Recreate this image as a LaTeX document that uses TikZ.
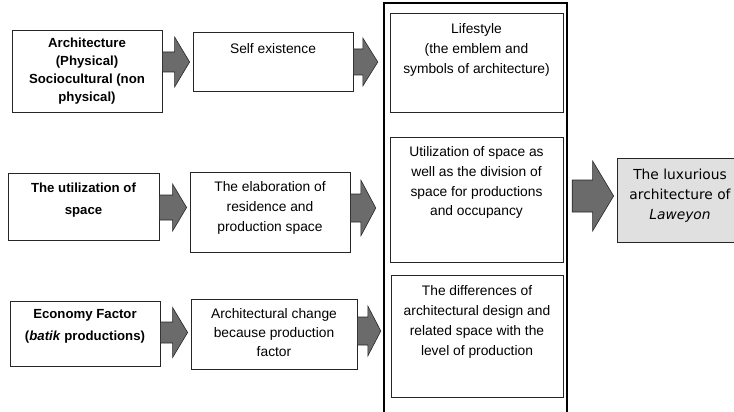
\documentclass[tikz,border=0pt]{standalone}
\usepackage{fontspec}
\setmainfont{Liberation Sans}
\newfontfamily\dejavu{DejaVu Sans}
\usetikzlibrary{calc}

\tikzset{
  box/.style={draw=black!85, line width=0.8pt, rectangle, inner sep=0pt},
  frame/.style={draw=black, line width=2.4pt, rectangle, inner sep=0pt},
  resultbox/.style={box, fill=black!12},
  arrowfill/.style={fill=black!58, draw=black!85, line width=0.6pt, line join=miter},
  txt/.style={align=center, anchor=north, inner sep=0pt},
  boldtxt/.style={txt, font=\bfseries\fontsize{13.2}{18}\selectfont},
  plaintxt/.style={txt, font=\fontsize{13.8}{20}\selectfont},
  resulttxt/.style={txt, font=\dejavu\fontsize{13.8}{20}\selectfont}
}

% block arrow: from, to, centre y, body half, head half, head length, start gap, end gap
\newcommand{\blockarrow}[8]{%
  \filldraw[arrowfill] let \p1=(#1.east), \p2=(#2.west), \p3=(0,#3) in
    ({\x1+#7pt},{\y3+#4pt}) -- ({\x2-#8pt-#6pt},{\y3+#4pt}) --
    ({\x2-#8pt-#6pt},{\y3+#5pt}) -- ({\x2-#8pt},\y3) --
    ({\x2-#8pt-#6pt},{\y3-#5pt}) -- ({\x2-#8pt-#6pt},{\y3-#4pt}) --
    ({\x1+#7pt},{\y3-#4pt}) -- cycle;
}

\begin{document}
\begin{tikzpicture}[x=1pt, y=-1pt]
\useasboundingbox (0,0) rectangle (734,412);

% left column: factors
\node[box, minimum width=150pt, minimum height=82pt] (A1) at (87,71) {};
\node[boldtxt] (A1t) at ($(A1.north)+(0,8)$) {Architecture\\(Physical)\\Sociocultural (non\\physical)};

\node[box, minimum width=151pt, minimum height=67pt] (A2) at (83.5,206.5) {};
\node[boldtxt, font=\bfseries\fontsize{13.2}{22}\selectfont] (A2t) at ($(A2.north)+(0,10)$) {The utilization of\\space};

\node[box, minimum width=150pt, minimum height=65pt] (A3) at (85,333.5) {};
\node[boldtxt, font=\bfseries\fontsize{13.2}{22}\selectfont] (A3t) at ($(A3.north)+(0,9)$) {Economy Factor\\(\textit{batik} productions)};

% middle column: effects
\node[box, minimum width=160pt, minimum height=59pt] (B1) at (273,61.5) {};
\node[plaintxt] (B1t) at ($(B1.north)+(0,12)$) {Self existence};

\node[box, minimum width=160pt, minimum height=80pt] (B2) at (270,212) {};
\node[plaintxt] (B2t) at ($(B2.north)+(0,10)$) {The elaboration of\\residence and\\production space};

\node[box, minimum width=166pt, minimum height=70pt] (B3) at (274,334) {};
\node[plaintxt, font=\fontsize{13.8}{19}\selectfont] (B3t) at ($(B3.north)+(0,10)$) {Architectural change\\because production\\factor};

% right column: outcomes inside a heavy frame
\node[frame, minimum width=183pt, minimum height=420pt] (F) at (475.5,213) {};

\node[box, minimum width=173pt, minimum height=99pt] (C1) at (476.5,62.5) {};
\node[plaintxt] (C1t) at ($(C1.north)+(0,11)$) {Lifestyle\\(the emblem and\\symbols of architecture)};

\node[box, minimum width=173pt, minimum height=125pt] (C2) at (476.5,199.5) {};
\node[plaintxt, font=\fontsize{13.8}{19.7}\selectfont] (C2t) at ($(C2.north)+(0,10)$) {Utilization of space as\\well as the division of\\space for productions\\and occupancy};

\node[box, minimum width=172pt, minimum height=122pt] (C3) at (477,336) {};
\node[plaintxt] (C3t) at ($(C3.north)+(0,11)$) {The differences of\\architectural design and\\related space with the\\level of production};

% result
\node[resultbox, minimum width=126pt, minimum height=84pt] (D) at (680,200) {};
\node[resulttxt] (Dt) at ($(D.north)+(0,11)$) {The luxurious\\architecture of\\\textit{Laweyon}};

% block arrows
\blockarrow{A1}{B1}{62}{10}{25}{15}{0}{3}
\blockarrow{B1}{F}{62}{13}{24}{15}{0}{5}
\blockarrow{A2}{B2}{207.5}{12.5}{23.5}{14}{0}{3}
\blockarrow{B2}{F}{208}{14}{28}{15}{0}{7}
\blockarrow{A3}{B3}{332.5}{10.5}{25}{15}{0}{3}
\blockarrow{B3}{F}{331}{14}{25}{13}{0}{2}
\blockarrow{F}{D}{196}{16}{35}{21}{4}{3}
\end{tikzpicture}
\end{document}
